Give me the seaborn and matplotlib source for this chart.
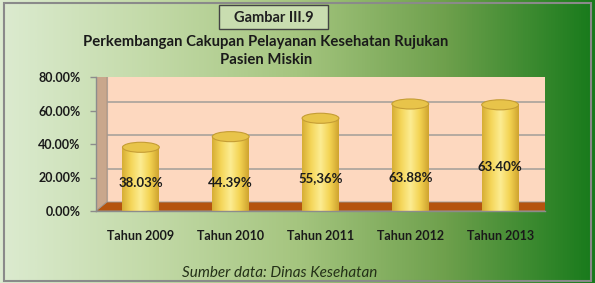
import numpy as np
import matplotlib
matplotlib.use("Agg")
import matplotlib.pyplot as plt
import matplotlib.transforms as mtransforms
from matplotlib.patches import Ellipse, Rectangle, Polygon
from matplotlib.colors import LinearSegmentedColormap
import seaborn as sns
import pandas as pd

# ---- data ----
categories = ["Tahun 2009", "Tahun 2010", "Tahun 2011", "Tahun 2012", "Tahun 2013"]
values = [38.03, 44.39, 55.36, 63.88, 63.40]
value_labels = ["38.03%", "44.39%", "55,36%", "63.88%", "63.40%"]
label_heights = [16.5, 16.5, 19.5, 20.0, 26.0]
y_ticks = [0, 20, 40, 60, 80]
y_tick_labels = ["0.00%", "20.00%", "40.00%", "60.00%", "80.00%"]

W, H = 595, 283
DPI = 100
sns.set_theme(style="white")
plt.rcParams["font.family"] = ["Lato", "DejaVu Sans"]

fig = plt.figure(figsize=(W / DPI, H / DPI), dpi=DPI)

# ---- background gradient ----
bg = fig.add_axes([0, 0, 1, 1], zorder=0)
bg.set_axis_off()
bg_cmap = LinearSegmentedColormap.from_list(
    "bg", [(0.0, "#dcebd0"), (0.25, "#c3daa8"), (0.5, "#a5c57f"),
           (0.75, "#6ea04c"), (1.0, "#177a1b")])
grad = np.linspace(0, 1, 512).reshape(1, -1)
bg.imshow(grad, aspect="auto", cmap=bg_cmap, extent=[0, 1, 0, 1])
bg.set_xlim(0, 1)
bg.set_ylim(0, 1)
bg.add_patch(Rectangle((0.006, 0.008), 0.988, 0.982, fill=False,
                       edgecolor="#8a8a8a", lw=1.5, transform=bg.transAxes))

# title box
bg.add_patch(Rectangle((219 / W, 1 - 29 / H), 109 / W, 24 / H,
                       fc="#c9ddb0", ec="#444444", lw=1.0, transform=bg.transAxes))
fig.text(273.5 / W, 1 - 18 / H, "Gambar III.9", ha="center", va="center",
         fontsize=10.5, fontweight="bold", color="#202020")
fig.text(266 / W, 1 - 51 / H, "Perkembangan Cakupan Pelayanan Kesehatan Rujukan\nPasien Miskin",
         ha="center", va="center", fontsize=10.7, fontweight="bold",
         color="#1a1a1a", linespacing=1.3)
fig.text(280 / W, 1 - 273 / H, "Sumber data: Dinas Kesehatan", ha="center",
         va="center", fontsize=11, style="italic", color="#243018")

# ---- main axes ----
x0, x1 = 96, 545
y0, y1 = 211, 77
ax = fig.add_axes([x0 / W, 1 - y0 / H, (x1 - x0) / W, (y0 - y1) / H], zorder=1)
ax.set_facecolor("none")

dx, dy = 11 / DPI, 9 / DPI
off = mtransforms.ScaledTranslation(dx, dy, fig.dpi_scale_trans)

df = pd.DataFrame({"cat": categories, "val": values})
sns.barplot(data=df, x="cat", y="val", color="#f5d95e", width=0.41,
            ax=ax, zorder=5, edgecolor="none")
bars = list(ax.patches)
ax.set_xlim(-0.5, len(categories) - 0.5)
ax.set_ylim(0, 80)

# back wall, side wall, floor
ax.add_patch(Rectangle((0, 0), 1, 1, transform=ax.transAxes + off,
                       fc="#fdd8bf", ec="#b9b0a8", lw=0.8, zorder=0))
for t in y_ticks[1:-1]:
    ax.plot([-0.5, len(categories) - 0.5], [t, t], color="#a8a29c", lw=1.2,
            transform=ax.transData + off, zorder=1)

fig.canvas.draw()
p00 = ax.transAxes.transform((0, 0))
p01 = ax.transAxes.transform((0, 1))
p10 = ax.transAxes.transform((1, 0))
ox, oy = dx * DPI, dy * DPI
ax.add_artist(Polygon([p00, p10, p10 + [ox, oy], p00 + [ox, oy]], closed=True,
                      transform=None, fc="#b5540e", ec="#9a9a9a", lw=0.6, zorder=2))
ax.add_artist(Polygon([p00, p00 + [ox, oy], p01 + [ox, oy], p01], closed=True,
                      transform=None, fc="#c9a78c", ec="#a89080", lw=0.6, zorder=1.5))

# cylinders
cyl_cmap = LinearSegmentedColormap.from_list(
    "cyl", ["#d6ad34", "#f5d65a", "#fcec92", "#f3d352", "#cfa32e"])
ell_h = 6.0
for i, p in enumerate(bars):
    bx, bw, bh = p.get_x(), p.get_width(), p.get_height()
    cx = bx + bw / 2
    im = ax.imshow(np.linspace(0, 1, 256).reshape(1, -1), cmap=cyl_cmap,
                   aspect="auto", extent=[bx, bx + bw, 0, bh], zorder=5)
    im.set_clip_path(p)
    ax.add_patch(Ellipse((cx, 0), bw, ell_h, fc="#d8b23c", ec="none", zorder=4.9))
    ax.add_patch(Ellipse((cx, bh), bw, ell_h, fc="#e8c44a", ec="#c59d34",
                         lw=0.8, zorder=6))
    ax.text(cx, label_heights[i], value_labels[i], ha="center", va="center",
            fontsize=9.5, fontweight="bold", color="#1c1c1c", zorder=7)
ax.set_xlim(-0.5, len(categories) - 0.5)
ax.set_ylim(0, 80)

# axes styling
ax.set_xlabel("")
ax.set_ylabel("")
ax.set_yticks(y_ticks)
ax.set_yticklabels(y_tick_labels, fontsize=9, fontweight="bold", color="#1a1a1a")
ax.set_xticks(range(len(categories)))
ax.set_xticklabels(categories, fontsize=9, fontweight="bold", color="#1a1a1a")
ax.set_xticks(np.arange(-0.5, len(categories), 1), minor=True)
ax.tick_params(axis="x", which="major", length=0, pad=14)
ax.tick_params(axis="x", which="minor", length=4, color="#8c8c8c", width=1)
ax.tick_params(axis="y", length=4, color="#8c8c8c", width=1, pad=7, left=True)
for s in ["top", "right"]:
    ax.spines[s].set_visible(False)
for s in ["left", "bottom"]:
    ax.spines[s].set_color("#8c8c8c")
    ax.spines[s].set_linewidth(1.0)
    ax.spines[s].set_zorder(8)

fig.savefig("out.png", dpi=DPI)
